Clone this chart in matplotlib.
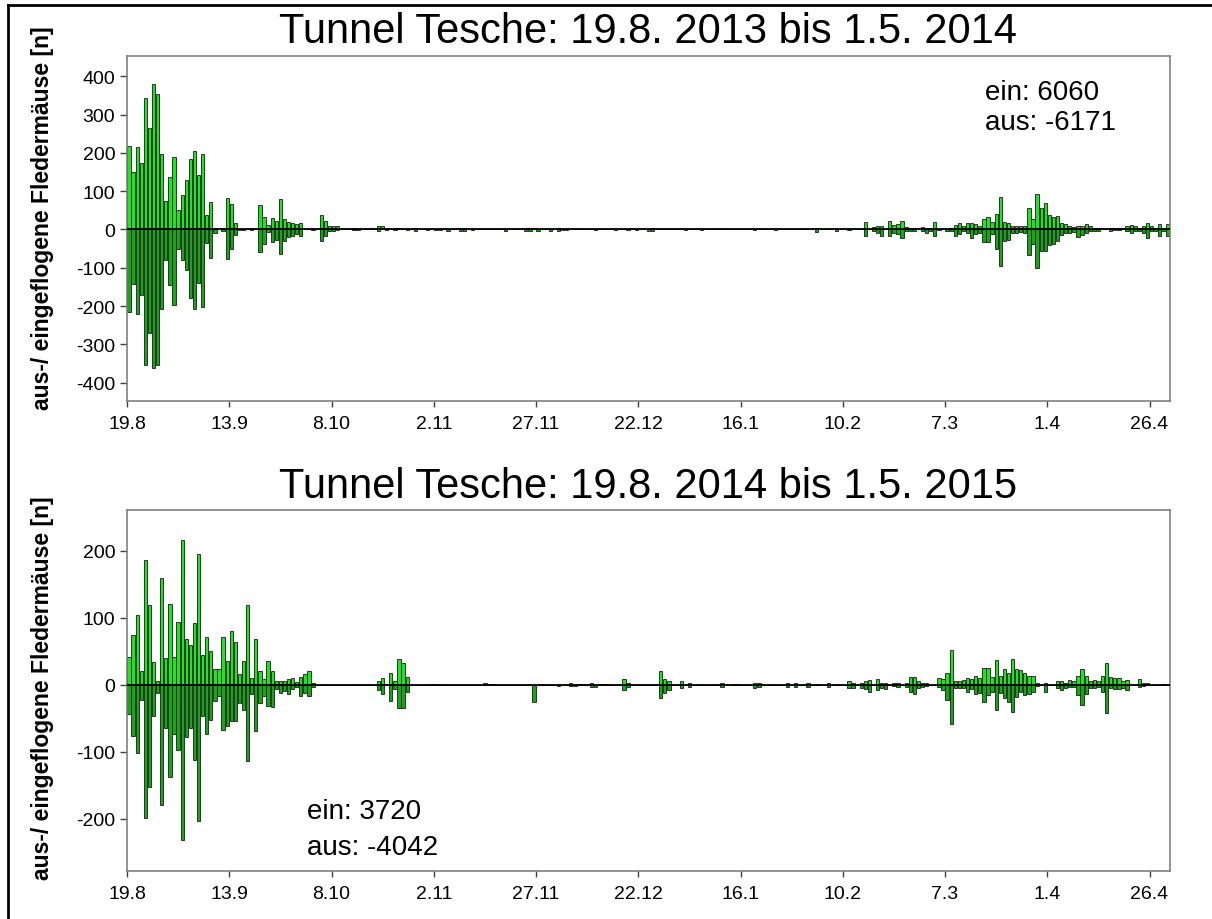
import numpy as np
import matplotlib
matplotlib.use("Agg")
import matplotlib.pyplot as plt
from matplotlib.lines import Line2D

plt.rcParams["font.family"] = ["Liberation Sans", "DejaVu Sans"]
plt.rcParams["axes.unicode_minus"] = False

# daily counts, 19.8. .. 1.5. (255 days), one row = 25 days
TICK_LABELS = ["19.8", "13.9", "8.10", "2.11", "27.11", "22.12", "16.1",
               "10.2", "7.3", "1.4", "26.4"]

EIN_2013 = [
    217, 151, 215, 173, 343, 265, 380, 354, 197, 74, 137, 189, 51, 89, 128, 184, 204, 141, 197, 38, 71, 5, 0, 3, 82,
    66, 17, 2, 2, 0, 4, 0, 64, 32, 12, 30, 23, 79, 27, 19, 17, 13, 17, 0, 0, 0, 0, 38, 21, 8,
    8, 9, 0, 0, 0, 4, 0, 0, 0, 3, 0, 8, 8, 5, 0, 5, 3, 0, 0, 0, 3, 0, 0, 1, 0,
    1, 1, 0, 2, 0, 0, 5, 3, 0, 0, 0, 0, 0, 0, 0, 0, 0, 2, 0, 0, 0, 0, 3, 5, 0,
    2, 0, 0, 2, 0, 4, 2, 1, 0, 0, 0, 0, 0, 0, 0, 0, 0, 0, 0, 1, 0, 0, 0, 0, 0,
    0, 0, 2, 3, 0, 0, 0, 0, 0, 0, 0, 0, 0, 0, 0, 1, 0, 0, 0, 0, 0, 0, 0, 0, 0,
    0, 0, 0, 2, 0, 0, 0, 0, 0, 0, 0, 0, 0, 0, 0, 0, 0, 0, 4, 0, 0, 0, 0, 3, 0,
    0, 0, 0, 0, 0, 19, 0, 7, 10, 10, 0, 23, 12, 15, 22, 7, 4, 5, 0, 7, 5, 3, 20, 2, 0,
    2, 5, 12, 17, 10, 18, 17, 13, 8, 27, 33, 20, 40, 84, 20, 17, 10, 8, 8, 10, 55, 27, 92, 55, 68,
    37, 33, 35, 17, 13, 8, 7, 10, 10, 15, 8, 5, 3, 0, 0, 5, 3, 5, 0, 8, 12, 8, 5, 10, 18,
    8, 5, 15, 5, 15,
]
AUS_2013 = [
    -216, -142, -220, -172, -353, -270, -362, -353, -209, -79, -146, -198, -50, -79, -105, -179, -209, -140, -203, -36, -74, -10, 0, -3, -77,
    -50, -14, -2, -2, 0, -2, 0, -59, -39, -7, -33, -27, -63, -29, -20, -16, -13, -16, 0, 0, -2, 0, -31, -18, -5,
    -3, -2, 0, 0, 0, -2, -1, 0, 0, 0, 0, -3, 0, -2, 0, -2, 0, 0, -1, 0, -3, 0, 0, -1, 0,
    -1, -1, 0, -3, 0, 0, -3, -5, 0, -1, 0, 0, 0, 0, 0, 0, 0, -3, 0, 0, 0, 0, -3, -5, 0,
    -3, 0, 0, -3, 0, -5, -2, -1, 0, 0, 0, 0, 0, 0, -1, 0, 0, 0, 0, -2, 0, 0, -1, 0, -1,
    0, 0, -3, -3, 0, 0, 0, 0, 0, 0, 0, -2, 0, 0, 0, -1, 0, 0, 0, 0, 0, 0, 0, 0, 0,
    0, 0, 0, -2, 0, 0, 0, 0, -1, 0, 0, 0, 0, 0, 0, 0, 0, 0, -7, 0, 0, 0, 0, -5, 0,
    0, -2, 0, 0, 0, -18, 0, -5, -10, -18, 0, -16, -10, -12, -22, -5, -5, -5, 0, -5, -8, -3, -18, -2, 0,
    -3, -5, -18, -12, -5, -8, -22, -12, -8, -32, -32, -12, -50, -96, -30, -28, -10, -8, -7, -8, -68, -37, -101, -55, -55,
    -40, -38, -30, -15, -10, -8, -7, -20, -15, -8, -5, -5, -3, 0, 0, -3, -2, -2, 0, -5, -8, -5, -5, -10, -22,
    -5, -5, -17, -5, -17,
]

EIN_2014 = [
    42, 75, 104, 20, 187, 119, 34, 5, 159, 40, 120, 42, 94, 216, 69, 59, 93, 196, 44, 72, 51, 24, 24, 72, 35,
    80, 64, 16, 36, 119, 10, 69, 21, 9, 36, 21, 5, 6, 6, 9, 10, 4, 11, 16, 20, 2, 0, 0, 0, 0,
    0, 0, 0, 0, 0, 0, 0, 0, 0, 0, 0, 5, 10, 0, 18, 5, 38, 33, 11, 0, 0, 0, 0, 0, 1,
    1, 0, 0, 0, 0, 0, 0, 0, 0, 0, 0, 0, 2, 1, 1, 0, 0, 0, 0, 0, 0, 0, 0, 0, 0,
    0, 1, 0, 0, 0, 0, 0, 0, 2, 1, 1, 1, 0, 3, 0, 1, 1, 1, 0, 0, 0, 8, 3, 0, 0,
    0, 0, 0, 0, 0, 20, 8, 5, 0, 0, 5, 0, 3, 0, 0, 0, 0, 0, 0, 0, 3, 0, 0, 1, 1,
    0, 0, 0, 2, 3, 0, 0, 0, 0, 0, 0, 3, 0, 3, 0, 0, 3, 0, 1, 0, 0, 3, 0, 1, 0,
    0, 5, 3, 0, 3, 5, 7, 0, 8, 3, 3, 0, 2, 3, 0, 3, 12, 12, 5, 3, 2, 0, 0, 10, 8,
    17, 52, 5, 5, 7, 10, 8, 13, 10, 25, 25, 12, 37, 13, 23, 18, 38, 23, 22, 17, 13, 13, 2, 0, 3,
    0, 0, 5, 5, 3, 7, 5, 13, 23, 13, 5, 7, 5, 13, 33, 12, 10, 10, 5, 7, 0, 0, 8, 3, 2,
    0, 0, 0, 1, 0,
]
AUS_2014 = [
    -44, -76, -102, -23, -199, -153, -47, -12, -179, -64, -137, -74, -98, -232, -78, -64, -112, -204, -47, -74, -52, -24, -17, -67, -62,
    -54, -54, -27, -38, -114, -14, -69, -27, -17, -31, -33, -7, -12, -9, -14, -7, -4, -17, -12, -17, -4, 0, 0, 0, 0,
    0, 0, 0, 0, 0, 0, 0, 0, 0, 0, 0, -8, -13, 0, -24, -7, -34, -34, -11, 0, 0, -1, 0, 0, 0,
    0, 0, 0, 0, 0, 0, 0, 0, 0, 0, 0, 0, -1, -1, 0, 0, 0, 0, -1, 0, 0, -1, 0, 0, -25,
    0, 0, 0, -1, 0, -2, 0, 0, -2, -2, -1, -1, 0, -3, -3, -1, -1, -1, 0, 0, 0, -8, -3, 0, -1,
    0, 0, 0, 0, 0, -20, -12, -8, 0, 0, -5, 0, -3, 0, -1, 0, 0, 0, 0, 0, -3, 0, 0, -1, -1,
    0, 0, 0, -5, -3, -1, -1, -1, 0, 0, 0, -3, 0, -3, 0, 0, -3, 0, -1, 0, 0, -3, 0, -1, 0,
    0, -5, -5, -1, -5, -7, -10, 0, -8, -5, -7, 0, -2, -3, 0, -3, -10, -13, -5, -3, -2, 0, 0, -3, -8,
    -22, -59, -5, -5, -5, -10, -7, -13, -12, -25, -15, -10, -37, -12, -20, -25, -40, -18, -10, -15, -13, -10, -2, 0, -10,
    0, 0, -5, -8, -5, -3, -3, -15, -30, -13, -5, -5, -3, -10, -42, -5, -7, -7, -5, -8, 0, 0, -3, -2, 0,
    0, 0, 0, -1, 0,
]

PANELS = [
    ("Tunnel Tesche: 19.8. 2013 bis 1.5. 2014", EIN_2013, AUS_2013,
     (-448, 453), [-400, -300, -200, -100, 0, 100, 200, 300, 400],
     "ein: 6060", "aus: -6171"),
    ("Tunnel Tesche: 19.8. 2014 bis 1.5. 2015", EIN_2014, AUS_2014,
     (-278, 261), [-200, -100, 0, 100, 200],
     "ein: 3720", "aus: -4042"),
]

W, H = 1212, 920
fig = plt.figure(figsize=(W / 100, H / 100), dpi=100)

# axes boxes in pixels: left, top, right, bottom
boxes = [(127, 57, 1170, 402), (127, 511, 1170, 872)]
title_y = [32, 487]
ylabel_y = [218, 688]
note_pos = [(985, 93, 123), (307, 812, 848)]

for (title, ein, aus, ylim, yticks, t_ein, t_aus), (l, t, r, b), ty, ly, (nx, ny1, ny2) in zip(
        PANELS, boxes, title_y, ylabel_y, note_pos):
    ax = fig.add_axes([l / W, 1 - b / H, (r - l) / W, (b - t) / H])
    days = np.arange(len(ein)) + 0.5
    ax.bar(days, ein, width=0.8, color="#1ee61e", edgecolor="#1a1a1a", linewidth=0.6)
    ax.bar(days, aus, width=0.8, color="#14a814", edgecolor="#1a1a1a", linewidth=0.6)
    ax.axhline(0, color="black", lw=1.3, zorder=3)

    ax.set_xlim(0, len(ein))
    ax.set_ylim(*ylim)
    ax.set_xticks(np.arange(0, 251, 25))
    ax.set_xticklabels(TICK_LABELS)
    ax.set_yticks(yticks)
    ax.tick_params(axis="both", labelsize=14, color="#404040", length=5, width=1)
    ax.tick_params(axis="x", length=4, pad=6)
    for s in ax.spines.values():
        s.set_color("#808080")
        s.set_linewidth(1.2)

    fig.text(648 / W, 1 - ty / H, title, ha="center", va="center", fontsize=30)
    fig.text(43 / W, 1 - ly / H, "aus-/ eingeflogene Fledermäuse [n]", rotation=90,
             ha="center", va="center", fontsize=16.5, fontweight="bold")
    fig.text(nx / W, 1 - ny1 / H, t_ein, ha="left", va="center", fontsize=20)
    fig.text(nx / W, 1 - ny2 / H, t_aus, ha="left", va="center", fontsize=20)

# frame lines on the left and top edge
fig.add_artist(Line2D([8 / W, 8 / W], [0, 1 - 6 / H], color="black", lw=2))
fig.add_artist(Line2D([8 / W, 1], [1 - 6 / H, 1 - 6 / H], color="black", lw=2))

fig.savefig("out.png", dpi=100)
